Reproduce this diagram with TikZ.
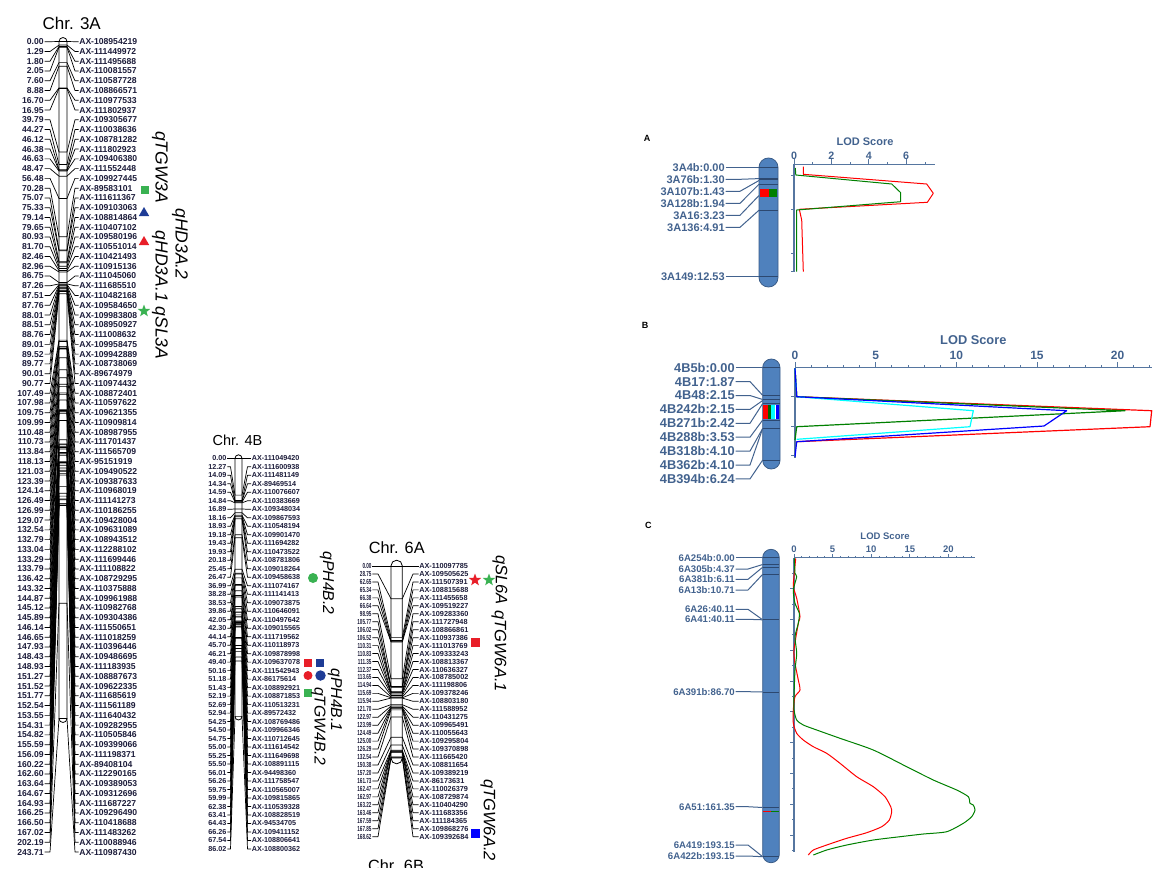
\documentclass[tikz,border=0pt]{standalone}
\usepackage{fontspec}
\setmainfont{Liberation Sans}
\usetikzlibrary{shapes.geometric,calc}

\definecolor{maptext}{RGB}{28,28,58}
\definecolor{lodtext}{RGB}{66,98,142}
\definecolor{lodaxisc}{RGB}{86,118,160}
\definecolor{chromfill}{RGB}{79,129,189}
\definecolor{chromedge}{RGB}{58,92,136}
\definecolor{bandline}{RGB}{44,72,112}
\definecolor{qred}{RGB}{232,30,40}
\definecolor{qgreen}{RGB}{58,178,82}
\definecolor{qblue}{RGB}{30,60,150}
\definecolor{lodred}{RGB}{255,0,0}
\definecolor{lodgreen}{RGB}{0,128,0}
\definecolor{lodblue}{RGB}{0,0,255}
\definecolor{lodcyan}{RGB}{0,255,255}

\begin{document}
\begin{tikzpicture}[
  x=1pt, y=-1pt,
  chrtitle/.style={inner sep=0pt, font=\fontsize{17}{17}\selectfont},
  numlab/.style={anchor=east, inner sep=0.6pt, text=maptext, font=\mapfont},
  mklab/.style={anchor=west, inner sep=0.6pt, text=maptext, font=\mapfont},
  maplink/.style={line width=0.7pt, line join=round},
  chrombar/.style={draw=black, fill=white, line width=0.8pt},
  qtl/.style={rotate=-90, inner sep=0pt, font=\itshape\fontsize{17.5}{17.5}\selectfont},
  qsq/.style={rectangle, minimum size=8.5pt, inner sep=0pt},
  qtri/.style={regular polygon, regular polygon sides=3, minimum size=12pt, inner sep=0pt},
  qdot/.style={circle, minimum size=10pt, inner sep=0pt},
  qstar/.style={star, star points=5, star point ratio=2.4, minimum size=13pt, inner sep=0pt},
  panel/.style={inner sep=0pt, font=\bfseries\fontsize{9}{9}\selectfont},
  rlab/.style={anchor=east, inner sep=0.6pt, text=lodtext},
  rlink/.style={draw=lodtext, line width=1pt, line join=round},
  rchrom/.style={draw=chromedge, fill=chromfill, line width=0.8pt},
  band/.style={draw=bandline, line width=0.8pt},
  lodtitle/.style={inner sep=0pt, text=lodtext},
  lodnum/.style={inner sep=0pt, text=lodtext},
  lodaxis/.style={draw=lodaxisc, line width=1.1pt},
  lodtick/.style={draw=lodaxisc, line width=0.8pt},
  lodcurve/.style={line width=1pt, line join=round}
]
\useasboundingbox (0,0) rectangle (1161,879);

% one linkage map: number column, bar, marker column
\def\drawmap#1#2{%
  \foreach \cm/\mk [count=\i from 0] in {#2} {
    \pgfmathsetmacro\yl{\ylab+\i*\dy}
    \pgfmathsetmacro\yp{\ypos+\cm*\mapsc}
    \node[numlab] (#1n\i) at (\xn,\yl) {\mapnum{\cm}};
    \node[mklab] (#1m\i) at (\xm,\yl) {\mk};
    \draw[maplink] (#1n\i.east) -- (\xa,\yl) -- (\barl,\yp) -- (\barr,\yp) -- (\xb,\yl) -- (#1m\i.west);
  }}
\def\mapnum#1{#1}

% Chr. 3A
\node[chrtitle] (t3a) at (71.7,23) {Chr. 3A};
\def\ylab{41.7}\def\dy{9.763}\def\ypos{41.5}\def\mapsc{2.778}
\def\xn{44.5}\def\xa{50}\def\barl{59}\def\barr{67}\def\xb{75}\def\xm{78.5}
\def\mapfont{\bfseries\fontsize{8.6}{9}\selectfont}
\draw[chrombar, rounded corners=4] (\barl,37.5) rectangle (\barr,722.5);
\drawmap{a}{0.00/AX-108954219,1.29/AX-111449972,1.80/AX-111495688,2.05/AX-110081557,7.60/AX-110587728,
  8.88/AX-108866571,16.70/AX-110977533,16.95/AX-111802937,39.79/AX-109305677,44.27/AX-110038636,
  46.12/AX-108781282,46.38/AX-111802923,46.63/AX-109406380,48.47/AX-111552448,56.48/AX-109927445,
  70.28/AX-89583101,75.07/AX-111611367,75.33/AX-109103063,79.14/AX-108814864,79.65/AX-110407102,
  80.93/AX-109580196,81.70/AX-110551014,82.46/AX-110421493,82.96/AX-110915136,86.75/AX-111045060,
  87.26/AX-111685510,87.51/AX-110482168,87.76/AX-109584650,88.01/AX-109983808,88.51/AX-108950927,
  88.76/AX-111008632,89.01/AX-109958475,89.52/AX-109942889,89.77/AX-108738069,90.01/AX-89674979,
  90.77/AX-110974432,107.49/AX-108872401,107.98/AX-110597622,109.75/AX-109621355,109.99/AX-110909814,
  110.48/AX-108987955,110.73/AX-111701437,113.84/AX-111565709,118.13/AX-95151919,121.03/AX-109490522,
  123.39/AX-109387633,124.14/AX-110968019,126.49/AX-111141273,126.99/AX-110186255,129.07/AX-109428004,
  132.54/AX-109631089,132.79/AX-108943512,133.04/AX-112288102,133.29/AX-111699446,133.79/AX-111108822,
  136.42/AX-108729295,143.32/AX-110375888,144.87/AX-109961988,145.12/AX-110982768,145.89/AX-109304386,
  146.14/AX-111550651,146.65/AX-111018259,147.93/AX-110396446,148.43/AX-109486695,148.93/AX-111183935,
  151.27/AX-108887673,151.52/AX-109622335,151.77/AX-111685619,152.54/AX-111561189,153.55/AX-111640432,
  154.31/AX-109282955,154.82/AX-110505846,155.59/AX-109399066,156.09/AX-111198371,160.22/AX-89408104,
  162.60/AX-112290165,163.64/AX-109389053,164.67/AX-109312696,164.93/AX-111687227,166.25/AX-109296490,
  166.50/AX-110418688,167.02/AX-111483262,202.19/AX-110088946,243.71/AX-110987430}

% QTL on 3A
\node[qsq, fill=qgreen] (tgw3a) at (145,190) {};
\node[qtri, fill=qblue] (hd3a2) at (144,213) {};
\node[qtri, fill=qred] (hd3a1) at (144,242) {};
\node[qstar, fill=qgreen] (sl3a) at (144,311) {};
\node[qtl] (ltgw3a) at (160,167) {qTGW3A};
\node[qtl] (lhd3a2) at (180,244) {qHD3A.2};
\node[qtl] (lhd3a1) at (160,295) {qHD3A.1 qSL3A};

% Chr. 4B
\node[chrtitle, font=\fontsize{14.5}{14.5}\selectfont] (t4b) at (237.5,440.5) {Chr. 4B};
\def\ylab{458.3}\def\dy{8.493}\def\ypos{458.3}\def\mapsc{3.0}
\def\xn{227.3}\def\xa{230.5}\def\barl{235}\def\barr{242}\def\xb{247.5}\def\xm{251}
\def\mapfont{\bfseries\fontsize{7.2}{8}\selectfont}
\draw[chrombar, rounded corners=3.5] (\barl,454.8) rectangle (\barr,720);
\drawmap{b}{0.00/AX-111049420,12.27/AX-111600938,14.09/AX-111481149,14.34/AX-89469514,14.59/AX-110076607,
  14.84/AX-110383669,16.89/AX-109348034,18.16/AX-109867593,18.93/AX-110548194,19.18/AX-109901470,
  19.43/AX-111694282,19.93/AX-110473522,20.18/AX-108781806,25.45/AX-109018264,26.47/AX-109458638,
  36.99/AX-111074167,38.28/AX-111141413,38.53/AX-109073875,39.86/AX-110646091,42.05/AX-110497642,
  42.30/AX-109015565,44.14/AX-111719562,45.70/AX-110118973,46.21/AX-109878998,49.40/AX-109637078,
  50.16/AX-111542943,51.18/AX-86175614,51.43/AX-108892921,52.19/AX-108871853,52.69/AX-110513231,
  52.94/AX-89572432,54.25/AX-108769486,54.50/AX-109966346,54.75/AX-110712645,55.00/AX-111614542,
  55.25/AX-111649698,55.50/AX-108891115,56.01/AX-94498360,56.26/AX-111758547,59.75/AX-110565007,
  59.99/AX-109815865,62.38/AX-110539328,63.41/AX-108828519,64.43/AX-94534705,66.26/AX-109411152,
  67.54/AX-108806641,86.02/AX-108800362}

% QTL on 4B
\node[qdot, fill=qgreen] (ph4b2) at (313,578) {};
\node[qsq, fill=qred] (ph4b1a) at (308,663) {};
\node[qsq, fill=qblue] (ph4b1b) at (320,663) {};
\node[qdot, fill=qred, minimum size=9pt] (ph4b1c) at (308,675.5) {};
\node[qdot, fill=qblue, minimum size=10.5pt] (ph4b1d) at (320.5,675.5) {};
\node[qsq, fill=qgreen] (tgw4b2) at (308,693) {};
\node[qtl, font=\itshape\fontsize{15.7}{15.7}\selectfont] (lph4b2) at (327,583) {qPH4B.2};
\node[qtl, font=\itshape\fontsize{15.7}{15.7}\selectfont] (lph4b1) at (335,700) {qPH4B.1};
\node[qtl, font=\itshape\fontsize{15.7}{15.7}\selectfont] (ltgw4b2) at (318.5,726) {qTGW4B.2};

% Chr. 6A
\node[chrtitle, font=\fontsize{16.3}{16.3}\selectfont] (t6a) at (396.7,547.5) {Chr. 6A};
\def\ylab{566}\def\dy{7.96}\def\ypos{566}\def\mapsc{1.139}
\def\xn{372.3}\def\xa{378}\def\barl{391}\def\barr{402.3}\def\xb{413}\def\xm{418.5}
\def\mapfont{\bfseries\fontsize{7.3}{8}\selectfont}
\def\mapnum#1{\scalebox{0.63}[1]{#1}}
\draw[chrombar, rounded corners=5.6] (\barl,560.2) rectangle (\barr,763.8);
\drawmap{c}{0.00/AX-110097785,28.75/AX-109505625,62.65/AX-111507391,65.34/AX-108815688,66.38/AX-111455658,
  66.64/AX-109519227,98.95/AX-109283360,105.77/AX-111727948,106.02/AX-108866861,106.52/AX-110937386,
  110.31/AX-111013769,110.83/AX-109333243,111.35/AX-108813367,112.37/AX-110636327,113.65/AX-108785002,
  114.94/AX-111198806,115.69/AX-109378246,115.94/AX-108803180,121.70/AX-111588952,122.97/AX-110431275,
  123.99/AX-109965491,124.49/AX-110055643,125.00/AX-109295804,126.29/AX-109370898,132.54/AX-111665420,
  150.38/AX-108811654,157.20/AX-109389219,161.73/AX-86173631,162.47/AX-110026379,162.97/AX-108729874,
  163.22/AX-110404290,163.46/AX-111683356,167.59/AX-111184365,167.85/AX-109868276,168.62/AX-109392684}

% QTL on 6A
\node[qstar, fill=qred] (sl6a1) at (475,580) {};
\node[qstar, fill=qgreen] (sl6a2) at (489,580) {};
\node[qsq, fill=qred, minimum size=9pt] (tgw6a1) at (475,642) {};
\node[qsq, fill=lodblue, minimum size=9pt] (tgw6a2) at (475,833) {};
\node[qtl, font=\itshape\fontsize{16.5}{16.5}\selectfont] (lsl6a) at (500,580) {qSL6A};
\node[qtl, font=\itshape\fontsize{16.5}{16.5}\selectfont] (ltgw6a1) at (499,651) {qTGW6A.1};
\node[qtl, font=\itshape\fontsize{16.5}{16.5}\selectfont] (ltgw6a2) at (488,820) {qTGW6A.2};

% next map title, cut by the lower edge
\begin{scope}
  \clip (340,850) rectangle (460,867);
  \node[chrtitle, font=\fontsize{16.3}{16.3}\selectfont] (t6b) at (396,866) {Chr. 6B};
\end{scope}

% ---- A: 3A LOD profile
\node[panel] (pa) at (647,138.3) {A};
\draw[rchrom, rounded corners=9.4] (759,158) rectangle (778,287);
\foreach \yp in {167.3,178.6,179.8,184.2,210.2,276.7} \draw[band] (759,\yp) -- (778,\yp);
\fill[lodred] (759.6,189) rectangle (768.5,197.3);
\fill[lodgreen] (768.5,189) rectangle (777.4,197.3);
\foreach \txt/\yl/\yp [count=\i] in {3A4b:0.00/167.3/167.3, 3A76b:1.30/179.3/178.6, 3A107b:1.43/191.3/180.5,
    3A128b:1.94/203.3/184.2, 3A16:3.23/215.3/195.5, 3A136:4.91/227.3/210.2, 3A149:12.53/276.7/276.7} {
  \node[rlab, font=\bfseries\fontsize{11}{11}\selectfont] (la\i) at (725.5,\yl) {\txt};
  \draw[rlink] (la\i.east) -- (740,\yl) -- (759,\yp);
}
\node[lodtitle, font=\bfseries\fontsize{11}{11}\selectfont] (loda) at (865,142) {LOD Score};
\draw[lodaxis] (794,164.3) -- (935,164.3);
\draw[lodaxis] (794,164.3) -- (794,271.7);
\foreach \k in {0,2,4,6} {
  \draw[lodtick] (794+\k*18.7,164.3) -- ++(0,-5);
  \node[lodnum, font=\bfseries\fontsize{10.7}{11}\selectfont] (na\k) at (794+\k*18.7,156) {\k};
}
\foreach \k in {1,3,5,7} \draw[lodtick] (794+\k*18.7,164.3) -- ++(0,-2.5);
\foreach \yt in {175,209.3,253.3,271.7} \draw[lodtick] (794,\yt) -- ++(-3.5,0);
\draw[lodcurve, draw=lodred] (803.3,166.7) -- (803.3,174.3) -- (926.7,184) -- (933.3,193.3)
  -- (927.3,202.3) -- (799.3,209.3) -- (801.7,220) -- (803.3,271.7);
\draw[lodcurve, draw=lodgreen] (795.3,168) -- (795.8,175) -- (891.7,184) -- (900.7,192.7)
  -- (900.7,201.7) -- (796.7,210) -- (796.5,271.7);

% ---- B: 4B LOD profile
\node[panel] (pb) at (645,325) {B};
\draw[rchrom, rounded corners=8.6] (762.7,359) rectangle (780,469);
\foreach \yp in {367.7,395.4,399.5,403.5,420,428.4,460} \draw[band] (762.7,\yp) -- (780,\yp);
\fill[lodred] (763.3,405) rectangle (767.6,419.3);
\fill[lodgreen!80!black] (767.6,405) rectangle (771.2,419.3);
\fill[lodcyan] (771.2,405) rectangle (774.6,419.3);
\fill[white] (774.6,405) rectangle (775.9,419.3);
\fill[lodblue] (775.9,405) rectangle (779.4,419.3);
\foreach \txt/\yl/\yp [count=\i] in {4B5b:0.00/367.7/367.7, 4B17:1.87/381.6/395.4, 4B48:2.15/395.5/399.5,
    4B242b:2.15/409.4/400.5, 4B271b:2.42/423.3/403.5, 4B288b:3.53/437.2/420, 4B318b:4.10/451.1/428.4,
    4B362b:4.10/465/428.4, 4B394b:6.24/478.9/460} {
  \node[rlab, font=\bfseries\fontsize{12.8}{13}\selectfont] (lb\i) at (735.5,\yl) {\txt};
  \draw[rlink] (lb\i.east) -- (750,\yl) -- (762.7,\yp);
}
\node[lodtitle, font=\bfseries\fontsize{12.8}{13}\selectfont] (lodb) at (973.3,340) {LOD Score};
\draw[lodaxis] (795,367.7) -- (1151.7,367.7);
\draw[lodaxis] (795,367.7) -- (795,458.3);
\foreach \k in {0,5,10,15,20} {
  \draw[lodtick] (795+\k*16.13,367.7) -- ++(0,-5.5);
  \node[lodnum, font=\bfseries\fontsize{12}{12}\selectfont] (nb\k) at (795+\k*16.13,355.7) {\k};
}
\foreach \k in {1,...,22} \draw[lodtick] (795+\k*16.13,367.7) -- ++(0,-2.5);
\foreach \yt in {396.7,426.7,455} \draw[lodtick] (795,\yt) -- ++(-4,0);
\draw[lodcurve, line width=1.2pt, draw=lodred] (795,368.3) -- (796.7,396.7) -- (1151.7,410.7)
  -- (1150,426.7) -- (796.7,441.7);
\draw[lodcurve, line width=1.2pt, draw=lodgreen] (795,368.3) -- (796.7,396.7) -- (1125,410.7)
  -- (796.7,426.7) -- (795,440);
\draw[lodcurve, line width=1.2pt, draw=lodcyan] (795,368.3) -- (796.7,396.7) -- (973.3,410.7)
  -- (970,426.7) -- (796.7,439.3);
\draw[lodcurve, line width=1.2pt, draw=lodblue] (795,368.3) -- (796.7,396.7) -- (1066.7,410.7)
  -- (1044,426) -- (796.7,441.7) -- (795,456.7);

% ---- C: 6A LOD profile
\node[panel] (pc) at (648.3,525) {C};
\draw[rchrom, rounded corners=8.3] (762.7,549.3) rectangle (779.3,862.7);
\foreach \yp in {557.7,564.5,567.2,574.3,619.8,691.9,807.5,856.7} \draw[band] (762.7,\yp) -- (779.3,\yp);
\draw[lodred, line width=1.3pt] (763.2,811.7) -- (771,811.7);
\draw[lodgreen, line width=1.3pt] (771,811.7) -- (778.8,811.7);
\foreach \txt/\yl/\yp [count=\i] in {6A254b:0.00/557.7/557.7, 6A305b:4.37/569/564.5, 6A381b:6.11/579.3/567.2,
    6A13b:10.71/590/574.3, 6A26:40.11/609.3/619.8, 6A41:40.11/619.3/619.8, 6A391b:86.70/691.7/691.9,
    6A51:161.35/806.7/807.5, 6A419:193.15/845/856.7, 6A422b:193.15/856/856.7} {
  \node[rlab, font=\bfseries\fontsize{9.6}{10}\selectfont] (lc\i) at (735.5,\yl) {\txt};
  \draw[rlink] (lc\i.east) -- (748,\yl) -- (762.7,\yp);
}
\node[lodtitle, font=\bfseries\fontsize{9.5}{10}\selectfont] (lodc) at (885,536) {LOD Score};
\draw[lodaxis] (794,557.7) -- (975,557.7);
\draw[lodaxis] (794,557.7) -- (794,851.7);
\foreach \k in {0,5,10,15,20} {
  \draw[lodtick] (794+\k*7.72,557.7) -- ++(0,-4);
  \node[lodnum, font=\bfseries\fontsize{9.5}{10}\selectfont] (nc\k) at (794+\k*7.72,549.3) {\k};
}
\foreach \k in {1,...,23} \draw[lodtick] (794+\k*7.72,557.7) -- ++(0,-2);
\foreach \k in {1,...,19} {
  \pgfmathsetmacro\tl{isodd(\k) ? 2 : 4}
  \draw[lodtick] (794,557.7+\k*15.4) -- ++(-\tl,0);
}
\draw[lodcurve, draw=lodred] plot[smooth, tension=0.4] coordinates {(795.7,558.3) (794.3,573.3)
  (793.3,586.7) (796.7,598.3) (800,616.7) (798.3,623.3) (794,650) (795,663.3) (798.3,680) (800,690)
  (795,696.7) (793.3,710) (793.3,723.3) (796.7,733.3) (803.3,740) (813.3,746.7) (826.7,753.3)
  (840,763.3) (856.7,776.7) (873.3,786.7) (885,796.7) (890.7,806.7) (891.7,811.7) (889.3,820)
  (881.7,826.7) (866.7,832.7) (846.7,838.3) (826.7,845) (813.3,850) (808.3,855)};
\draw[lodcurve, draw=lodgreen] plot[smooth, tension=0.4] coordinates {(794.3,558.3) (795,573.3)
  (796.7,576.7) (793.3,590) (795,603.3) (799.3,613.3) (798.3,623.3) (795,636.7) (796.7,653.3)
  (795,670) (794,696.7) (794,710) (796.7,720) (803.3,725) (816.7,730) (840,738.3) (873.3,750)
  (906.7,766.7) (933.3,780) (956.7,790) (968.3,796.7) (970,803.3) (973.3,805) (975,810)
  (971.7,816.7) (963.3,823.3) (946.7,831.7) (923.3,834) (900,836.7) (873.3,840) (846.7,845)
  (826.7,850) (813.3,855)};

\end{tikzpicture}
\end{document}
